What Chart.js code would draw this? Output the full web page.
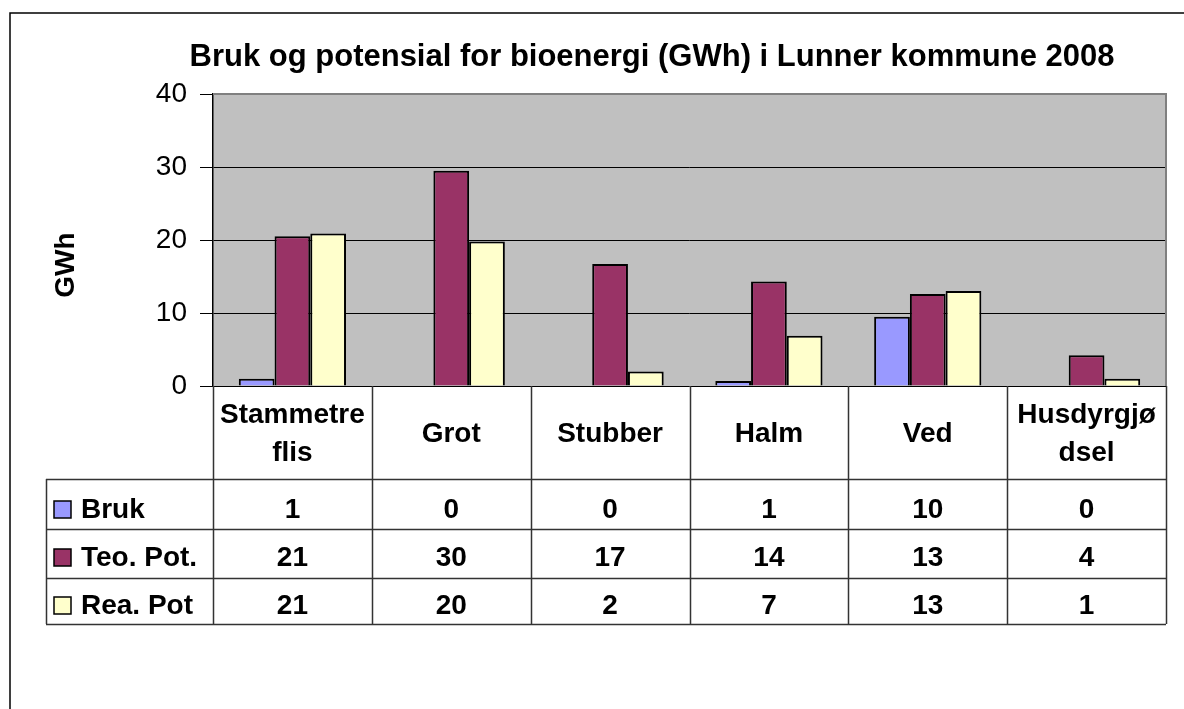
<!DOCTYPE html>
<html lang="no">
<head>
    <meta charset="UTF-8">
    <title>Bruk og potensial for bioenergi</title>
    <script src="https://cdn.jsdelivr.net/npm/chart.js"></script>
    <style>
        body {
            margin: 0;
            background: #ffffff;
        }
        .wrap {
            position: relative;
            width: 1184px;
            height: 709px;
        }
    </style>
</head>
<body>
    <div class="wrap">
        <canvas id="bioChart" width="1184" height="709"></canvas>
    </div>

    <script>
        // Data (GWh)
        const categories = [['Stammetre', 'flis'], 'Grot', 'Stubber', 'Halm', 'Ved', ['Husdyrgjø', 'dsel']];
        const seriesNames = ['Bruk', 'Teo. Pot.', 'Rea. Pot'];
        const bruk = [1.0, 0, 0, 0.7, 9.5, 0];
        const teoPot = [20.5, 29.5, 16.7, 14.3, 12.6, 4.2];
        const reaPot = [20.9, 19.8, 2.0, 6.9, 13.0, 1.0];
        const yTicks = [0, 10, 20, 30, 40];
        const chartTitle = 'Bruk og potensial for bioenergi (GWh) i Lunner kommune 2008';

        const colors = ['#9999FF', '#993366', '#FFFFCC'];
        const FONT = "'Liberation Sans', Arial, sans-serif";

        // table row geometry (below the plot)
        const headerBottom = 479;
        const rowLines = [479, 529, 578, 624];
        const rowBaselines = [518, 566, 614];
        const legendLeft = 46;

        // grey plot background + grey top/right border
        const plotBg = {
            id: 'plotBg',
            beforeDraw(chart) {
                const { ctx, chartArea: a } = chart;
                ctx.save();
                ctx.fillStyle = '#C0C0C0';
                ctx.fillRect(a.left, a.top, a.right - a.left, a.bottom - a.top);
                ctx.restore();
            },
            afterDatasetsDraw(chart) {
                const { ctx, chartArea: a } = chart;
                ctx.save();
                ctx.strokeStyle = '#808080';
                ctx.lineWidth = 2;
                ctx.beginPath();
                ctx.moveTo(a.left, a.top);
                ctx.lineTo(a.right, a.top);
                ctx.lineTo(a.right, a.bottom);
                ctx.stroke();
                ctx.restore();
            }
        };

        // frame, titles and data table
        const dataTable = {
            id: 'dataTable',
            afterDraw(chart) {
                const { ctx, chartArea: a } = chart;
                const x = chart.scales.x;
                const sets = chart.data.datasets;
                const colW = (a.right - a.left) / categories.length;
                ctx.save();

                // outer frame (left + top)
                ctx.strokeStyle = '#000';
                ctx.lineWidth = 1.5;
                ctx.beginPath();
                ctx.moveTo(10, 709);
                ctx.lineTo(10, 13);
                ctx.lineTo(1184, 13);
                ctx.stroke();

                // chart title
                ctx.fillStyle = '#000';
                ctx.font = 'bold 31px ' + FONT;
                ctx.textAlign = 'center';
                ctx.textBaseline = 'alphabetic';
                ctx.fillText(chartTitle, 652, 66);

                // y axis title
                ctx.save();
                ctx.translate(66, 265);
                ctx.rotate(-Math.PI / 2);
                ctx.font = 'bold 28px ' + FONT;
                ctx.textBaseline = 'middle';
                ctx.fillText('GWh', 0, 0);
                ctx.restore();

                // grid of the table
                ctx.strokeStyle = '#333';
                ctx.lineWidth = 1.5;
                ctx.beginPath();
                for (let i = 0; i <= categories.length; i++) {
                    const px = Math.round(a.left + i * colW) + 0.5;
                    ctx.moveTo(px, a.bottom);
                    ctx.lineTo(px, rowLines[rowLines.length - 1]);
                }
                rowLines.forEach(y => {
                    ctx.moveTo(legendLeft, y + 0.5);
                    ctx.lineTo(a.right, y + 0.5);
                });
                ctx.moveTo(legendLeft + 0.5, headerBottom);
                ctx.lineTo(legendLeft + 0.5, rowLines[rowLines.length - 1]);
                ctx.stroke();

                ctx.fillStyle = '#000';
                ctx.textAlign = 'center';
                ctx.textBaseline = 'alphabetic';
                ctx.font = 'bold 28px ' + FONT;

                // category labels
                categories.forEach((c, i) => {
                    const cx = x.getPixelForValue(i);
                    if (Array.isArray(c)) {
                        ctx.fillText(c[0], cx, 423);
                        ctx.fillText(c[1], cx, 461);
                    } else {
                        ctx.fillText(c, cx, 442);
                    }
                });

                // series rows
                sets.forEach((ds, r) => {
                    const by = rowBaselines[r];
                    ds.data.forEach((v, i) => {
                        ctx.fillText(Math.round(v).toString(), x.getPixelForValue(i), by);
                    });
                    // legend key
                    ctx.fillStyle = ds.backgroundColor;
                    ctx.fillRect(54, by - 17, 17, 17);
                    ctx.strokeStyle = '#000';
                    ctx.lineWidth = 1.5;
                    ctx.strokeRect(54, by - 17, 17, 17);
                    ctx.fillStyle = '#000';
                    ctx.textAlign = 'left';
                    ctx.fillText(ds.label, 81, by);
                    ctx.textAlign = 'center';
                });

                ctx.restore();
            }
        };

        new Chart(document.getElementById('bioChart'), {
            type: 'bar',
            data: {
                labels: categories,
                datasets: [
                    { label: seriesNames[0], data: bruk, backgroundColor: colors[0] },
                    { label: seriesNames[1], data: teoPot, backgroundColor: colors[1] },
                    { label: seriesNames[2], data: reaPot, backgroundColor: colors[2] }
                ]
            },
            options: {
                responsive: false,
                animation: false,
                layout: {
                    padding: { left: 0, right: 18, top: 94, bottom: 323 }
                },
                datasets: {
                    bar: {
                        borderColor: '#000',
                        borderWidth: 2,
                        barPercentage: 1,
                        categoryPercentage: 0.675
                    }
                },
                scales: {
                    x: {
                        display: false
                    },
                    y: {
                        min: 0,
                        max: 40,
                        afterFit(scale) { scale.width = 213; },
                        afterBuildTicks(scale) {
                            scale.ticks = yTicks.map(v => ({ value: v }));
                        },
                        ticks: {
                            color: '#000',
                            padding: 13,
                            font: { family: FONT, size: 28 }
                        },
                        grid: {
                            color: ctx => (ctx.tick && ctx.tick.value === 40) ? 'rgba(0,0,0,0)' : '#000',
                            lineWidth: 1,
                            tickLength: 13,
                            tickColor: '#000',
                            drawTicks: true
                        },
                        border: { color: '#000', width: 1.5 }
                    }
                },
                plugins: {
                    legend: { display: false },
                    tooltip: { enabled: false },
                    title: { display: false }
                }
            },
            plugins: [plotBg, dataTable]
        });
    </script>
</body>
</html>
